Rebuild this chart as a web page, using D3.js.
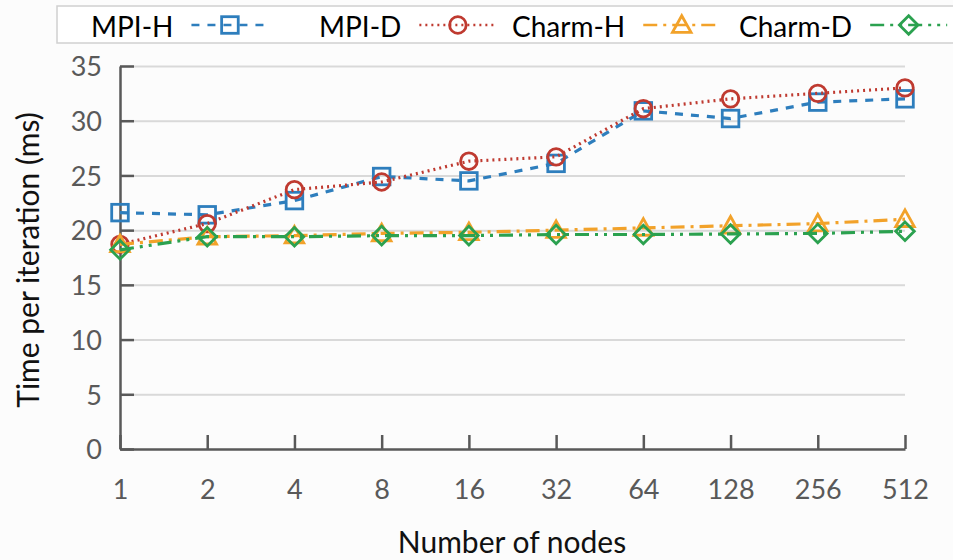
<!DOCTYPE html>
<html>
<head>
<meta charset="utf-8">
<script src="https://cdn.jsdelivr.net/npm/d3@7"></script>
<style>
  body { margin: 0; background: #fcfcfc; font-family: Lato, "Open Sans", sans-serif; }
  svg { display: block; }
  .axis path, .axis line { stroke: #595959; stroke-width: 2.5px; }
  .axis text { fill: #595959; font-size: 27px; font-family: Lato, sans-serif; }
  .grid line { stroke: #d9d9d9; stroke-width: 2px; }
  .grid path { display: none; }
</style>
</head>
<body>
<script>
// categories and series
var nodes = ["1", "2", "4", "8", "16", "32", "64", "128", "256", "512"];
var mpiH   = [21.6, 21.4, 22.7, 24.9, 24.5, 26.1, 30.9, 30.2, 31.7, 32.0];
var mpiD   = [18.7, 20.6, 23.7, 24.4, 26.3, 26.7, 31.1, 32.0, 32.5, 33.0];
var charmH = [18.7, 19.4, 19.5, 19.7, 19.8, 20.0, 20.2, 20.4, 20.6, 21.0];
var charmD = [18.2, 19.4, 19.4, 19.5, 19.5, 19.6, 19.6, 19.65, 19.7, 19.9];
var yTicks = [0, 5, 10, 15, 20, 25, 30, 35];

var series = [
  {name: "MPI-H",   values: mpiH,   color: "#2e7ebd", dash: "8,8",          shape: "square"},
  {name: "MPI-D",   values: mpiD,   color: "#bf3a30", dash: "2,4",          shape: "circle"},
  {name: "Charm-H", values: charmH, color: "#f2a22a", dash: "14,6,3,6",     shape: "triangle"},
  {name: "Charm-D", values: charmD, color: "#2ba14f", dash: "14,6,3,6,3,6", shape: "diamond"}
];

var W = 953, H = 560;
var svg = d3.select("body").append("svg").attr("width", W).attr("height", H);

var x = d3.scalePoint().domain(nodes).range([120, 905]);
var y = d3.scaleLinear().domain([0, 35]).range([449, 66]);

// gridlines
svg.append("g")
    .attr("class", "grid")
    .attr("transform", "translate(120,0)")
    .call(d3.axisLeft(y).tickValues(yTicks.slice(1)).tickSize(-785).tickFormat(""));

// y axis (ticks point into the plot)
svg.append("g")
    .attr("class", "axis")
    .attr("transform", "translate(120,0)")
    .call(d3.axisLeft(y).tickValues(yTicks).tickSizeInner(-14).tickSizeOuter(0).tickPadding(18))
    .selectAll("text").attr("dy", "0.36em");

// x axis
var xa = svg.append("g")
    .attr("class", "axis")
    .attr("transform", "translate(0,449)")
    .call(d3.axisBottom(x).tickSizeInner(-14).tickSizeOuter(0));
xa.selectAll("text").attr("y", 50).attr("dy", 0);

// axis titles
svg.append("text")
    .attr("x", 512).attr("y", 553)
    .attr("text-anchor", "middle")
    .style("font-size", "30px").style("fill", "#111")
    .text("Number of nodes");

svg.append("text")
    .attr("transform", "translate(39,260) rotate(-90)")
    .attr("text-anchor", "middle")
    .style("font-size", "30px").style("fill", "#111")
    .text("Time per iteration (ms)");

// marker drawing
function marker(g, shape, color, cx, cy) {
  var s = 8.3;
  var m;
  if (shape === "square") {
    m = g.append("rect").attr("x", cx - s).attr("y", cy - s).attr("width", 2 * s).attr("height", 2 * s);
  } else if (shape === "circle") {
    m = g.append("circle").attr("cx", cx).attr("cy", cy).attr("r", s);
  } else if (shape === "triangle") {
    m = g.append("path").attr("d", "M" + cx + "," + (cy - s - 1) + "L" + (cx + s + 1) + "," + (cy + s - 1) + "L" + (cx - s - 1) + "," + (cy + s - 1) + "Z");
  } else {
    m = g.append("path").attr("d", "M" + cx + "," + (cy - s - 1) + "L" + (cx + s + 1) + "," + cy + "L" + cx + "," + (cy + s + 1) + "L" + (cx - s - 1) + "," + cy + "Z");
  }
  m.attr("fill", "none").attr("stroke", color).attr("stroke-width", 2.8);
}

var line = d3.line()
    .x(function(d, i) { return x(nodes[i]); })
    .y(function(d) { return y(d); });

series.forEach(function(s) {
  var g = svg.append("g");
  g.append("path")
      .datum(s.values)
      .attr("d", line)
      .attr("fill", "none")
      .attr("stroke", s.color)
      .attr("stroke-width", 3.2)
      .attr("stroke-dasharray", s.dash);
  s.values.forEach(function(v, i) {
    marker(g, s.shape, s.color, x(nodes[i]), y(v));
  });
});

// legend
var leg = svg.append("g");
leg.append("rect")
    .attr("x", 57).attr("y", 6).attr("width", 920).attr("height", 37)
    .attr("fill", "#fff").attr("stroke", "#d0d0d0").attr("stroke-width", 1.5);

var legX = [91, 319, 512, 739];
series.forEach(function(s, i) {
  var t = leg.append("text")
      .attr("x", legX[i]).attr("y", 37)
      .style("font-size", "28px").style("fill", "#000")
      .text(s.name);
  var x0 = legX[i] + t.node().getComputedTextLength() + 18;
  leg.append("line")
      .attr("x1", x0).attr("x2", x0 + 77).attr("y1", 25).attr("y2", 25)
      .attr("stroke", s.color).attr("stroke-width", 2.5)
      .attr("stroke-dasharray", s.dash);
  marker(leg, s.shape, s.color, x0 + 38.5, 25);
});
</script>
</body>
</html>
